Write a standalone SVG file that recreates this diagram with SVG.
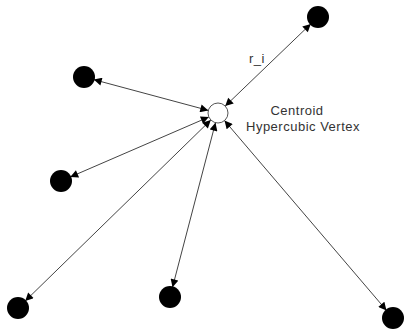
<svg xmlns="http://www.w3.org/2000/svg" width="406" height="335" viewBox="0 0 406 335">
<defs>
<marker id="ah" viewBox="0 0 10 10" refX="10" refY="5" markerWidth="9" markerHeight="8" markerUnits="userSpaceOnUse" orient="auto-start-reverse">
<path d="M0,0 L10,5 L0,10 z" fill="#000"/>
</marker>
<style>
.edge{stroke:#444;stroke-width:1;fill:none;marker-start:url(#ah);marker-end:url(#ah)}
.node{fill:#000}
.lbl{font-family:"Liberation Sans",Arial,sans-serif;font-size:13px;fill:#333;letter-spacing:0.5px}
</style>
</defs>
<rect width="406" height="335" fill="#fff"/>
<g id="connectors">
<line class="edge" x1="310.8" y1="23.9" x2="225.2" y2="106.1"/>
<line class="edge" x1="93.7" y1="79.6" x2="208.3" y2="110.4"/>
<line class="edge" x1="70.2" y1="177" x2="208.8" y2="117"/>
<line class="edge" x1="25.2" y1="301" x2="210.8" y2="120"/>
<line class="edge" x1="172.5" y1="287.3" x2="215.5" y2="122.7"/>
<line class="edge" x1="386.5" y1="310.4" x2="224.5" y2="120.6"/>
</g>
<g id="centroid">
<circle cx="218" cy="113" r="10" fill="#fff" stroke="#555" stroke-width="1"/>
</g>
<g id="n1"><circle class="node" cx="318" cy="17" r="11"/></g>
<g id="n2"><circle class="node" cx="84" cy="77" r="11"/></g>
<g id="n3"><circle class="node" cx="61" cy="181" r="11"/></g>
<g id="n4"><circle class="node" cx="18" cy="308" r="11"/></g>
<g id="n5"><circle class="node" cx="170" cy="297" r="11"/></g>
<g id="n6"><circle class="node" cx="393" cy="318" r="11"/></g>
<g id="labels">
<text class="lbl" x="249" y="63">r_i</text>
<text class="lbl" x="297" y="115" text-anchor="middle">Centroid</text>
<text class="lbl" x="303" y="131" text-anchor="middle">Hypercubic Vertex</text>
</g>
</svg>
